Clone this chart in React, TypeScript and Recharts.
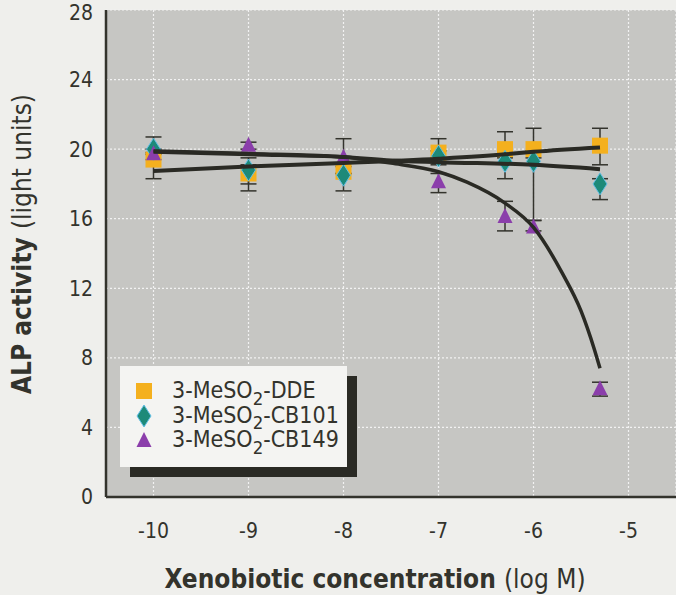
import React from 'react'
import { ScatterChart, Scatter, XAxis, YAxis, CartesianGrid, ErrorBar, Label } from 'recharts'

// log M concentrations of the measured points
const concentrations = [-10, -9, -8, -7, -6.3, -6, -5.3]

const ddeValues = [19.4, 18.6, 18.7, 19.8, 20.0, 20.0, 20.2]
const ddeErrors = [[1.1, 0.4], [0.6, 0.5], [0.1, 0.3], [0.3, 0.8], [0.5, 1.0], [0.5, 1.2], [1.1, 1.0]]

const cb101Values = [20.0, 18.8, 18.5, 19.6, 19.3, 19.3, 18.0]
const cb101Errors = [[0.3, 0.7], [1.2, 0.7], [0.9, 0.1], [0.5, 0.3], [1.0, 0.5], [3.4, 0.6], [0.9, 0.3]]

const cb149Values = [19.7, 20.2, 19.5, 18.1, 16.1, 15.5, 6.2]
const cb149Errors = [[0.3, 0.3], [0.2, 0.2], [0.3, 1.1], [0.6, 0.5], [0.8, 0.9], [0.2, 0.4], [0.4, 0.4]]

// fitted curves
const ddeFitX = [-10, -9, -8, -7, -6.3, -6, -5.3]
const ddeFitY = [18.75, 19.0, 19.2, 19.45, 19.7, 19.85, 20.1]
const cb101FitX = [-10, -9, -8, -7.5, -7, -6, -5.3]
const cb101FitY = [19.85, 19.7, 19.55, 19.35, 19.25, 19.1, 18.85]
const cb149FitX = [-10, -9, -8, -7.5, -7, -6.7, -6.3, -6, -5.7, -5.5, -5.36, -5.3]
const cb149FitY = [19.9, 19.75, 19.55, 19.2, 18.7, 18.1, 16.9, 15.5, 12.9, 10.7, 8.5, 7.4]

const xTicks = [-10, -9, -8, -7, -6, -5]
const yTicks = [0, 4, 8, 12, 16, 20, 24, 28]

const FONT = "'Liberation Sans Narrow', 'DejaVu Sans Condensed', 'Liberation Sans', Arial, sans-serif"
const INK = '#33332c'

const points = (values: number[], errors: number[][]) =>
  concentrations.map((x, i) => ({ x, y: values[i], err: errors[i] }))
const fit = (xs: number[], ys: number[]) => xs.map((x, i) => ({ x, y: ys[i] }))

const Square = ({ cx, cy }: any) => <rect x={cx - 8} y={cy - 8} width={16} height={16} fill="#f4b01e" />
const Diamond = ({ cx, cy }: any) => (
  <polygon
    points={`${cx},${cy - 11} ${cx + 7},${cy} ${cx},${cy + 11} ${cx - 7},${cy}`}
    fill="#1d8a79"
    stroke="#62bfe6"
    strokeWidth={1}
  />
)
const Triangle = ({ cx, cy }: any) => (
  <polygon points={`${cx},${cy - 9} ${cx + 7.5},${cy + 6} ${cx - 7.5},${cy + 6}`} fill="#8b3eab" />
)
const Empty = () => <g />

const sub2 = <span style={{ fontSize: '0.8em', position: 'relative', top: '0.38em' }}>2</span>

export default function App() {
  const dde = points(ddeValues, ddeErrors)
  const cb101 = points(cb101Values, cb101Errors)
  const cb149 = points(cb149Values, cb149Errors)
  const lineStyle = { stroke: '#2a2a24', strokeWidth: 4 }

  return (
    <div style={{ position: 'absolute', left: 0, top: 0, width: 676, height: 595, background: '#efefec', fontFamily: FONT }}>
      <ScatterChart width={676} height={595} margin={{ top: 10, right: 0, bottom: 0, left: 0 }}>
        <CartesianGrid fill="#c6c6c3" stroke="#f2f2f2" strokeDasharray="2 2" strokeWidth={1.2} />
        <XAxis
          type="number"
          dataKey="x"
          domain={[-10.5, -4.5]}
          ticks={xTicks}
          height={98}
          tickSize={0}
          tickMargin={26}
          axisLine={{ stroke: INK, strokeWidth: 2.5 }}
          tick={{ fill: INK, fontSize: 21, fontFamily: FONT }}
          allowDataOverflow
        >
          <Label
            content={() => (
              <text x={375} y={588} textAnchor="middle" fill={INK} fontSize={26} fontFamily={FONT}>
                <tspan fontWeight="bold">Xenobiotic concentration </tspan>
                <tspan>(log M)</tspan>
              </text>
            )}
          />
        </XAxis>
        <YAxis
          type="number"
          dataKey="y"
          domain={[0, 28]}
          ticks={yTicks}
          width={106}
          tickSize={0}
          tickMargin={13}
          axisLine={{ stroke: INK, strokeWidth: 2.5 }}
          tick={{ fill: INK, fontSize: 21, fontFamily: FONT }}
        >
          <Label
            content={() => (
              <text
                x={31}
                y={244}
                transform="rotate(-90, 31, 244)"
                textAnchor="middle"
                fill={INK}
                fontSize={26}
                fontFamily={FONT}
              >
                <tspan fontWeight="bold">ALP activity </tspan>
                <tspan>(light units)</tspan>
              </text>
            )}
          />
        </YAxis>

        <Scatter data={dde} shape={Square} isAnimationActive={false} />
        <Scatter data={cb101} shape={Diamond} isAnimationActive={false} />
        <Scatter data={cb149} shape={Triangle} isAnimationActive={false} />

        <Scatter data={dde} shape={Empty} isAnimationActive={false}>
          <ErrorBar dataKey="err" direction="y" width={8} stroke={INK} strokeWidth={1.5} isAnimationActive={false} />
        </Scatter>
        <Scatter data={cb101} shape={Empty} isAnimationActive={false}>
          <ErrorBar dataKey="err" direction="y" width={8} stroke={INK} strokeWidth={1.5} isAnimationActive={false} />
        </Scatter>
        <Scatter data={cb149} shape={Empty} isAnimationActive={false}>
          <ErrorBar dataKey="err" direction="y" width={8} stroke={INK} strokeWidth={1.5} isAnimationActive={false} />
        </Scatter>

        <Scatter data={fit(ddeFitX, ddeFitY)} shape={Empty} line={lineStyle} lineJointType="monotoneX" isAnimationActive={false} />
        <Scatter data={fit(cb101FitX, cb101FitY)} shape={Empty} line={lineStyle} lineJointType="monotoneX" isAnimationActive={false} />
        <Scatter data={fit(cb149FitX, cb149FitY)} shape={Empty} line={{ stroke: '#2a2a24', strokeWidth: 3.5 }} lineJointType="monotoneX" isAnimationActive={false} />
      </ScatterChart>

      <div
        style={{
          position: 'absolute',
          left: 120,
          top: 366,
          width: 227,
          height: 101,
          background: '#f4f4f2',
          boxShadow: '10px 10px 0 #2a2a24',
          color: INK,
          fontSize: 23,
          lineHeight: '24.5px',
          boxSizing: 'border-box',
          paddingTop: 13,
        }}
      >
        {[
          { shape: 'square', name: 'DDE' },
          { shape: 'diamond', name: 'CB101' },
          { shape: 'triangle', name: 'CB149' },
        ].map((row) => (
          <div key={row.name} style={{ display: 'flex', alignItems: 'center', height: 24.5 }}>
            <svg width={52} height={24} style={{ flex: 'none' }}>
              {row.shape === 'square' && <rect x={16} y={4} width={16} height={16} fill="#f4b01e" />}
              {row.shape === 'diamond' && (
                <polygon points="24,1 31,12 24,23 17,12" fill="#1d8a79" stroke="#62bfe6" strokeWidth={1} />
              )}
              {row.shape === 'triangle' && <polygon points="24,4 31.5,19 16.5,19" fill="#8b3eab" />}
            </svg>
            <span style={{ whiteSpace: 'nowrap' }}>
              3-MeSO{sub2}-{row.name}
            </span>
          </div>
        ))}
      </div>
    </div>
  )
}
